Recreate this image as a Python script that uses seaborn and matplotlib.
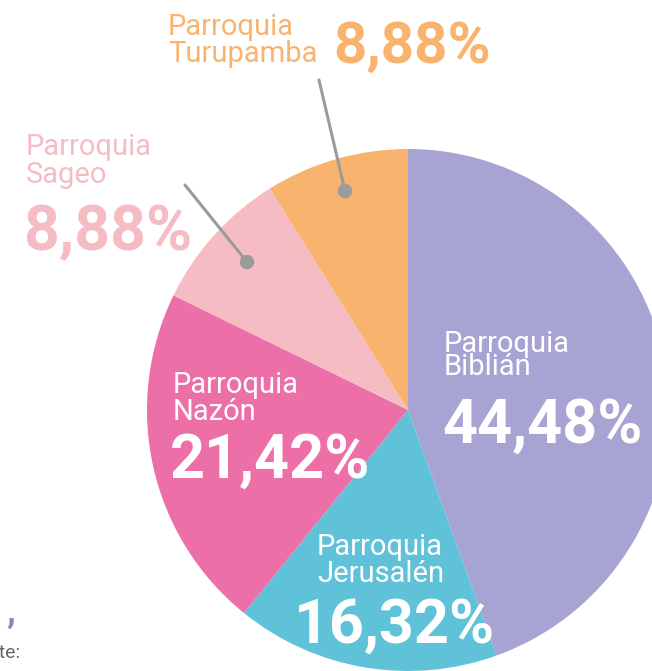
import seaborn as sns
import matplotlib.pyplot as plt
from matplotlib.patches import Circle
from matplotlib.transforms import Affine2D

# data
parroquias = ["Biblián", "Jerusalén", "Nazón", "Sageo", "Turupamba"]
porcentajes = [44.48, 16.32, 21.42, 8.88, 8.88]
etiquetas = ["44,48%", "16,32%", "21,42%", "8,88%", "8,88%"]
colores = ["#A7A4D3", "#5FC2D9", "#EC6FA7", "#F5BCC4", "#F8B46E"]

sns.set_style("white")
plt.rcParams['font.family'] = ['Roboto', 'DejaVu Sans']

W, H = 652, 671
fig = plt.figure(figsize=(W / 100, H / 100), dpi=100)
ax = fig.add_axes([0, 0, 1, 1])

pal = sns.color_palette(colores)
cx, cy, r = 408, 410, 261
ax.pie(porcentajes, colors=pal, startangle=90, counterclock=False,
       center=(cx, -cy), radius=r, wedgeprops=dict(linewidth=0))
# pie is drawn in y-up space: flip it back into pixel space
for p in ax.patches:
    p.set_transform(Affine2D().scale(1, -1) + ax.transData)
ax.set_xlim(0, W)
ax.set_ylim(H, 0)
ax.set_aspect('auto')
ax.axis('off')

# (label color, label x, baseline1, baseline2, pct x, pct baseline, pct size)
pos = {
    "Biblián": ("white", 444, 352, 375, 442, 443, 44),
    "Jerusalén": ("white", 317, 555, 582, 294, 643, 44),
    "Nazón": ("white", 173, 393, 420, 170, 478, 44),
    "Sageo": (colores[3], 26, 155, 183, 23, 250, 45),
}
for name, pct in zip(parroquias, etiquetas):
    if name == "Turupamba":
        continue
    c, lx, b1, b2, px, pb, ps = pos[name]
    ax.text(lx, b1, "Parroquia", color=c, fontsize=21, va='baseline', ha='left')
    ax.text(lx, b2, name, color=c, fontsize=21, va='baseline', ha='left')
    ax.text(px, pb, pct, color=c, fontsize=ps, fontweight='bold',
            va='baseline', ha='left')

# Turupamba label sits to the left of its number
ax.text(168, 35, "Parroquia", color=colores[4], fontsize=21, va='baseline')
ax.text(168, 62, "Turupamba", color=colores[4], fontsize=21, va='baseline')
ax.text(333, 63, etiquetas[4], color=colores[4], fontsize=42,
        fontweight='bold', va='baseline')

# leader lines
gris = "#9B9B9B"
for (x0, y0, x1, y1) in [(185, 185, 247, 262), (319, 80, 345, 191)]:
    ax.plot([x0, x1], [y0, y1], color=gris, lw=2.2, solid_capstyle='round')
    ax.add_patch(Circle((x1, y1), 6.5, color=gris, zorder=5))

# cropped fragments on the left edge
ax.text(6, 622, ",", color="#8C86C8", fontsize=26, fontweight='bold', va='baseline')
ax.text(21, 658, "Fuente:", color="#666666", fontsize=14, va='baseline', ha='right')

fig.savefig("out.png", dpi=100)
